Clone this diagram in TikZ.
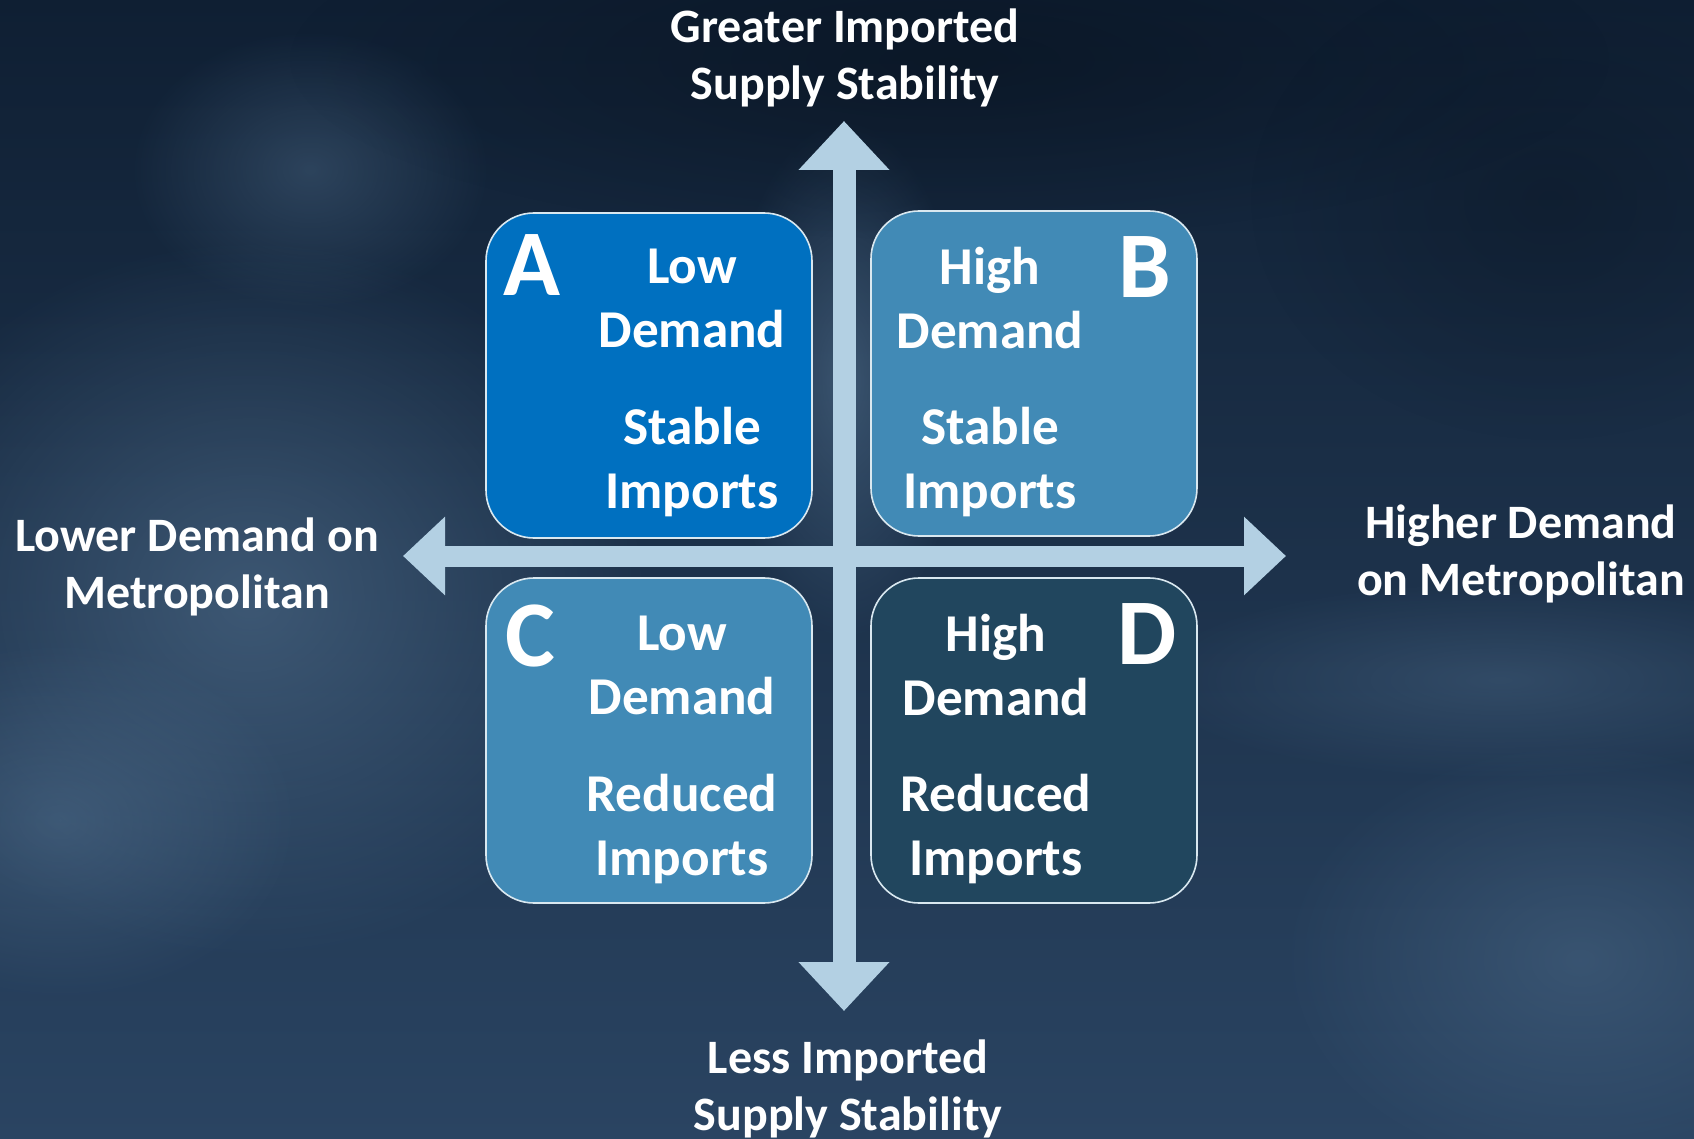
\documentclass[tikz,border=0pt]{standalone}
\usepackage{fontspec}
\setmainfont{Carlito}
\usetikzlibrary{arrows.meta, fadings}
\definecolor{skytop}{HTML}{0F1F33}
\definecolor{skybot}{HTML}{2A4462}
\definecolor{haze}{HTML}{5D7D9C}
\definecolor{dusk}{HTML}{08121F}
\definecolor{quadA}{HTML}{0070C0}
\definecolor{quadB}{HTML}{418AB6}
\definecolor{quadD}{HTML}{21465E}
\definecolor{axisblue}{HTML}{B3D0E3}
\tikzfading[name=blob, inner color=transparent!0, outer color=transparent!100]

\begin{document}
\begin{tikzpicture}[x=0.5pt, y=-0.5pt,
  quad/.style={draw=white!80!quadB, line width=0.8pt, rounded corners=24pt, minimum width=163pt, minimum height=162.5pt},
  axislabel/.style={text=white, align=center, font=\bfseries\fontsize{24pt}{28.5pt}\selectfont},
  boxtext/.style={text=white, align=center, font=\bfseries\fontsize{26.6pt}{32pt}\selectfont},
  letter/.style={text=white, font=\bfseries\fontsize{47pt}{50pt}\selectfont},
  axisarrow/.style={draw=axisblue}]
\useasboundingbox (0,0) rectangle (1694,1139);
\fill [top color=skytop, bottom color=skybot] (0,0) rectangle (1694,1139);
\fill [haze, path fading=blob, opacity=0.5] (250,600) ellipse [x radius=200pt, y radius=180pt];
\fill [haze, path fading=blob, opacity=0.35] (310,170) ellipse [x radius=90pt, y radius=70pt];
\fill [haze, path fading=blob, opacity=0.4] (60,820) ellipse [x radius=120pt, y radius=90pt];
\fill [haze, path fading=blob, opacity=0.5] (845,380) ellipse [x radius=60pt, y radius=130pt];
\fill [haze, path fading=blob, opacity=0.35] (1580,960) ellipse [x radius=150pt, y radius=110pt];
\fill [haze, path fading=blob, opacity=0.3] (1500,680) ellipse [x radius=180pt, y radius=50pt];
\fill [dusk, path fading=blob, opacity=0.6] (950,60) ellipse [x radius=330pt, y radius=90pt];
\fill [dusk, path fading=blob, opacity=0.35] (1550,200) ellipse [x radius=150pt, y radius=120pt];

\node [quad, fill=quadA] (boxA) at (649,375.5) {};
\node [quad, fill=quadB] (boxB) at (1034,373.5) {};
\node [quad, fill=quadB] (boxC) at (649,740.5) {};
\node [quad, fill=quadD] (boxD) at (1034,740.5) {};

\coordinate (north) at (844,121);
\coordinate (south) at (844,1011);
\coordinate (west) at (403,556);
\coordinate (east) at (1286,556);
\draw [axisarrow, line width=11.5pt, {Triangle[length=24.5pt,width=44pt]}-{Triangle[length=24.5pt,width=44pt]}] (south) -- (north);
\draw [axisarrow, line width=10.5pt, {Triangle[length=21pt,width=38pt]}-{Triangle[length=21pt,width=38pt]}] (west) -- (east);

\node [letter] (letA) at (532,265) {A};
\node [letter] (letB) at (1145,267) {B};
\node [letter] (letC) at (530,636) {C};
\node [letter] (letD) at (1147,634) {D};

\node [boxtext] (demA) at (692,298) {Low\\Demand};
\node [boxtext] (impA) at (692,462.5) {Stable\\Imports};
\node [boxtext] (demB) at (990,298) {High\\Demand};
\node [boxtext] (impB) at (990,462.5) {Stable\\Imports};
\node [boxtext] (demC) at (682,665.5) {Low\\Demand};
\node [boxtext] (impC) at (682,829.5) {Reduced\\Imports};
\node [boxtext] (demD) at (996,665.5) {High\\Demand};
\node [boxtext] (impD) at (996,829.5) {Reduced\\Imports};

\node [axislabel] (greater) at (845,57.5) {Greater Imported\\Supply Stability};
\node [axislabel] (less) at (848,1088.5) {Less Imported\\Supply Stability};
\node [axislabel] (lower) at (197,566.5) {Lower Demand on\\Metropolitan};
\node [axislabel] (higher) at (1521,554) {Higher Demand\\on Metropolitan};
\end{tikzpicture}
\end{document}
